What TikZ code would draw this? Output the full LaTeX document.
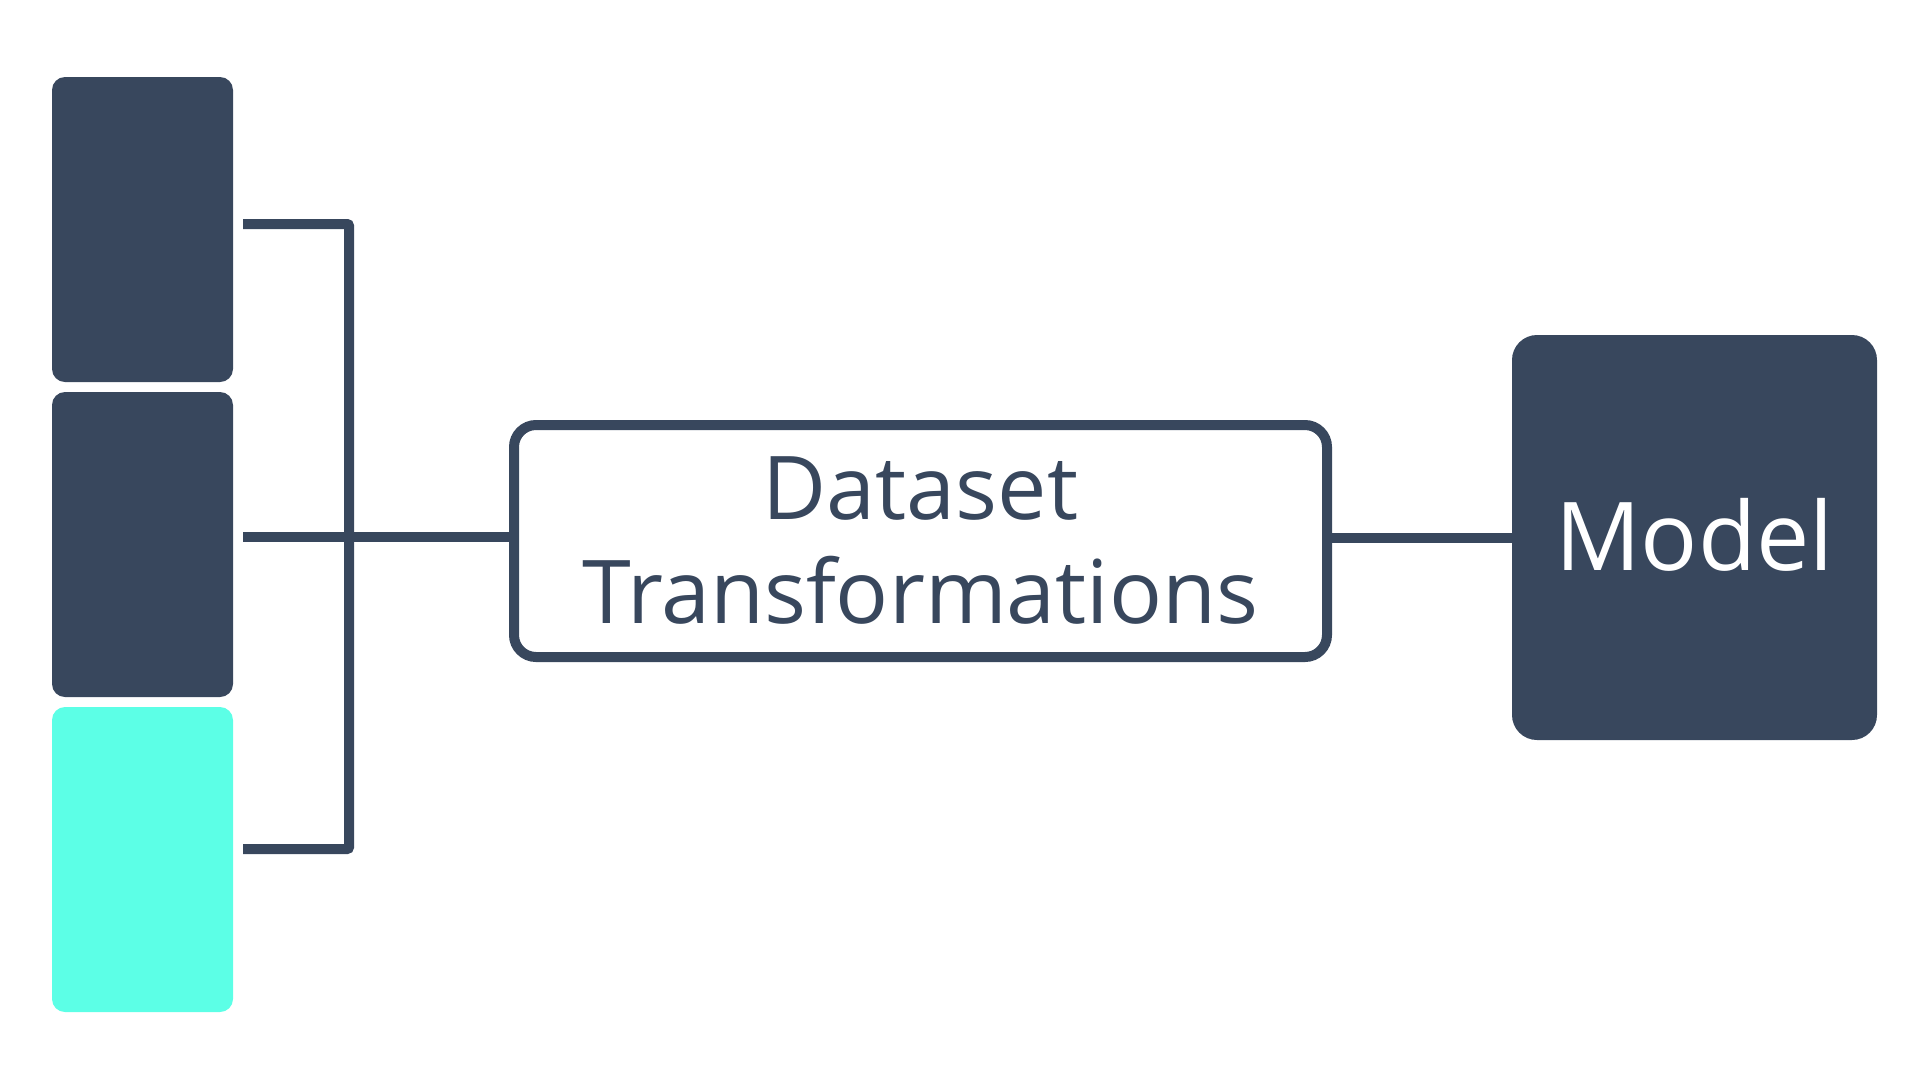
\documentclass[tikz,border=0pt]{standalone}
\usepackage{xcolor}
\usepackage{fontspec}
\setmainfont{Open Sans}
\usepackage{tikz}
\usetikzlibrary{positioning}

\definecolor{slate}{HTML}{38475D}
\definecolor{aqua}{HTML}{5CFFE6}

\begin{document}
\begin{tikzpicture}[x=1pt,y=-1pt,
  srcbox/.style={rectangle,fill=#1,minimum width=181pt,minimum height=305pt,rounded corners=13pt,inner sep=0pt},
  link/.style={draw=slate,line width=10pt},
  stagebox/.style={rectangle,draw=slate,line width=10pt,rounded corners=22pt,align=center,text=slate,
    font=\fontsize{88pt}{104pt}\selectfont,minimum width=813pt,minimum height=232pt,inner sep=0pt},
  modelbox/.style={rectangle,fill=slate,rounded corners=25pt,text=white,font=\fontsize{95pt}{110pt}\selectfont,
    minimum width=365pt,minimum height=405pt}]
\useasboundingbox (0,0) rectangle (1920,1080);

\node[srcbox=slate] (src1) at (142.5,229.5) {};
\node[srcbox=slate] (src2) at (142.5,544.5) {};
\node[srcbox=aqua] (src3) at (142.5,859.5) {};

\node[stagebox] (tf) at (920.5,541) {Dataset\\Transformations};
\node[modelbox] (model) at (1694.5,537.5) {\raisebox{7pt}{Model}};

% bracket joining the sources
\coordinate (b1) at (243,224);
\coordinate (b2) at (243,537);
\coordinate (b3) at (243,849);
\draw[link,rounded corners=2pt] (b1) -- ++(106,0) |- (b3);
\draw[link] (b2) -- (b2 -| tf.west);
\draw[link] (tf.east |- model.west) -- (model.west);
\end{tikzpicture}
\end{document}
